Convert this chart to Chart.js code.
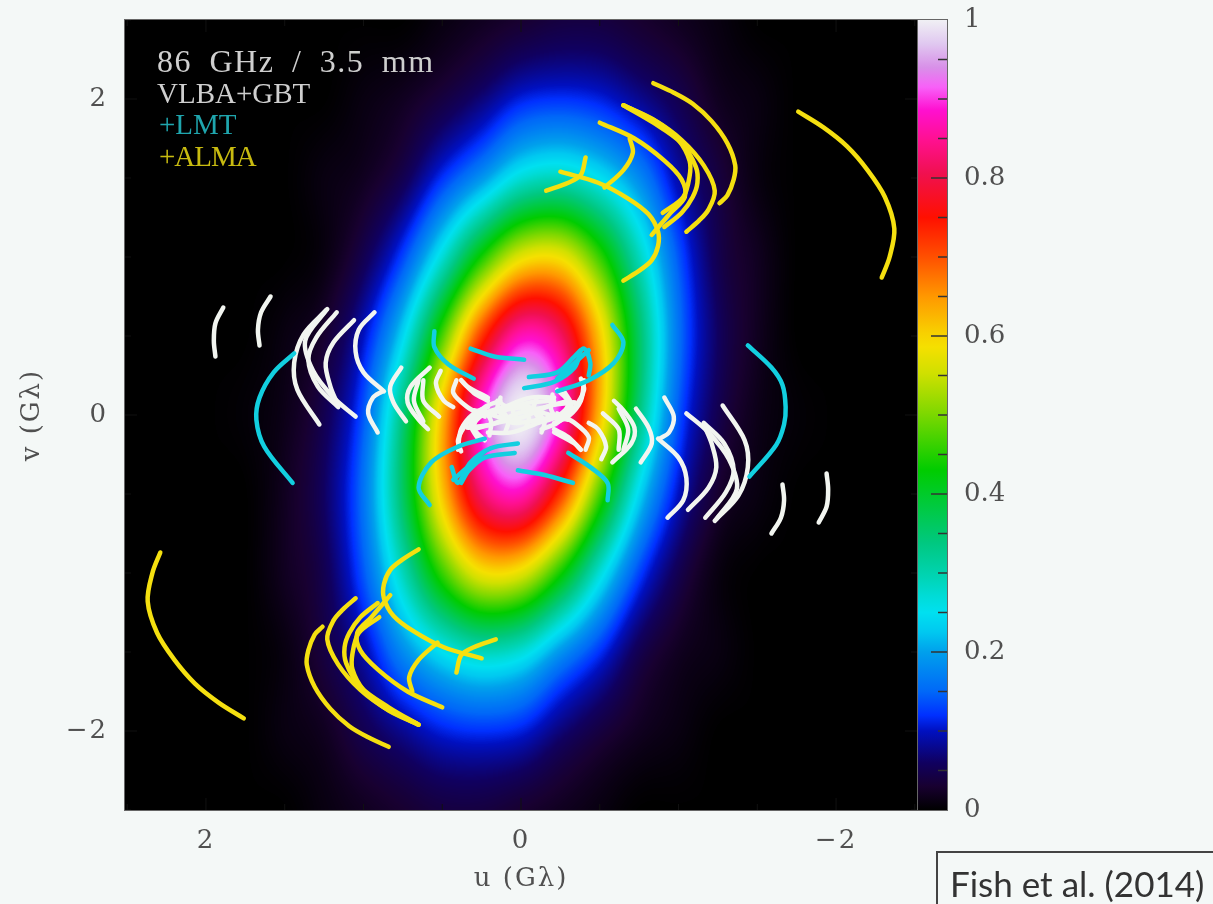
<!DOCTYPE html>
<html>
<head>
<meta charset="utf-8">
<title>86 GHz uv coverage</title>
<script src="https://cdn.jsdelivr.net/npm/chart.js@4/dist/chart.umd.min.js"></script>
<style>
  html, body { margin:0; padding:0; background:#f4f8f7; }
  #stage { position:relative; width:1213px; height:904px; overflow:hidden; }
  #plot, #bar { position:absolute; top:0; filter:blur(0.6px); }
  #plot { left:0; }
  #bar { left:900px; }
  .tag { position:absolute; left:157px; font:29px "Liberation Serif", serif; white-space:nowrap; line-height:32px; filter:blur(0.5px); }
  #fish { position:absolute; left:936px; top:851px; width:290px; height:70px; border:2px solid #444; box-sizing:border-box;
          font:35px Lato, sans-serif; color:#333; padding:9px 0 0 12px; filter:blur(0.4px); }
</style>
</head>
<body>
<div id="stage">
  <canvas id="plot" width="1213" height="904"></canvas>
  <canvas id="bar" width="313" height="840"></canvas>
  <div class="tag" style="top:45px;color:#cfcfcf;font-size:32px;letter-spacing:1.5px;word-spacing:8px">86 GHz / 3.5 mm</div>
  <div class="tag" style="top:77px;color:#cfcfcf">VLBA+GBT</div>
  <div class="tag" style="top:108px;color:#1fa5ad;left:159px">+LMT</div>
  <div class="tag" style="top:140px;color:#c8bb10;left:159px;letter-spacing:-1px">+ALMA</div>
  <div id="fish">Fish et al. (2014)</div>
</div>
<script>
// uv axes (G-lambda)
const uvTicks = [2, 0, -2];
const uvMinorTicks = [-2.5, -2, -1.5, -1, -0.5, 0, 0.5, 1, 1.5, 2, 2.5];
const barTicks = [0, 0.2, 0.4, 0.6, 0.8, 1];
const barMinorTicks = [0.05, 0.1, 0.15, 0.25, 0.3, 0.35, 0.45, 0.5, 0.55, 0.65, 0.7, 0.75, 0.85, 0.9, 0.95];

// colour bar
const cmapValues = [0, 0.03, 0.06, 0.1, 0.12, 0.15, 0.2, 0.225, 0.25, 0.27, 0.295, 0.338, 0.43, 0.503, 0.553, 0.586, 0.604, 0.65, 0.7, 0.75, 0.806, 0.848, 0.886, 0.915, 0.94, 0.97, 1];
const cmapColors = ['#000000', '#180030', '#100060', '#0010c0', '#0030ff', '#0068f8', '#00a0ec', '#00c8f0', '#00e0f0', '#00dcd8', '#00d4b4', '#00c880', '#00cc00', '#80d800', '#d0e000', '#f5e000', '#f8d000', '#ff9800', '#ff5000', '#ff1000', '#f01050', '#ff1090', '#ff10d0', '#f860f8', '#d890e8', '#e0c8f0', '#f0f0f4'];

// intensity on a coarse u,v grid
const gridU = [-2.5, -2.25, -2, -1.75, -1.5, -1.25, -1, -0.75, -0.5, -0.25, 0, 0.25, 0.5, 0.75, 1, 1.25, 1.5, 1.75, 2, 2.25, 2.5];
const gridV = [2.5, 2, 1.5, 1, 0.5, 0, -0.5, -1, -1.5, -2, -2.5];
const intensity = [
  [0, 0, 0, 0, 0, .01, .02, .03, .04, .04, .03, .02, .01, 0, 0, 0, 0, 0, 0, 0, 0],
  [0, 0, 0, 0, .01, .02, .05, .08, .11, .12, .11, .07, .04, .02, .01, 0, 0, 0, 0, 0, 0],
  [0, 0, 0, 0, .01, .04, .09, .18, .25, .29, .27, .19, .12, .05, .02, .01, 0, 0, 0, 0, 0],
  [0, 0, 0, 0, .02, .05, .14, .29, .46, .58, .57, .44, .27, .13, .05, .01, 0, 0, 0, 0, 0],
  [0, 0, 0, 0, .02, .06, .16, .36, .61, .82, .87, .72, .47, .24, .10, .03, .01, 0, 0, 0, 0],
  [0, 0, 0, .004, .015, .05, .14, .34, .62, .89, 1, .89, .62, .34, .14, .05, .015, .004, 0, 0, 0],
  [0, 0, 0, 0, .01, .03, .10, .24, .47, .72, .87, .82, .61, .36, .16, .06, .02, 0, 0, 0, 0],
  [0, 0, 0, 0, 0, .01, .05, .13, .27, .44, .57, .58, .46, .29, .14, .05, .02, 0, 0, 0, 0],
  [0, 0, 0, 0, 0, .01, .02, .05, .12, .19, .27, .29, .25, .18, .09, .04, .01, 0, 0, 0, 0],
  [0, 0, 0, 0, 0, 0, .01, .02, .04, .07, .11, .12, .11, .08, .05, .02, .01, 0, 0, 0, 0],
  [0, 0, 0, 0, 0, 0, 0, 0, .01, .02, .03, .04, .04, .03, .02, .01, 0, 0, 0, 0, 0]
];

// VLBA+GBT tracks
const whiteArcs = [
  [[1.89,.68],[1.94,.58],[1.95,.47],[1.94,.37]],
  [[1.59,.75],[1.65,.65],[1.67,.54],[1.66,.44]],
  [[1.23,.67],[1.38,.51],[1.44,.33],[1.42,.16],[1.28,-.06]],
  [[1.17,.65],[1.30,.49],[1.35,.35],[1.29,.18],[1.16,.05]],
  [[1.24,.66],[1.37,.47],[1.32,.28],[1.19,.11],[1.05,-.01]],
  [[1.06,.60],[1.19,.46],[1.24,.33],[1.21,.18],[1.16,.06]],
  [[.93,.65],[1.03,.54],[1.05,.40],[1.00,.27],[.87,.15]],
  [[.88,.15],[.94,.11],[.97,.01],[.91,-.11]],
  [[.76,.30],[.83,.18],[.81,.08],[.73,-.04]],
  [[.58,.30],[.70,.18],[.72,.08],[.65,-.03],[.59,-.09]],
  [[.65,.22],[.68,.09],[.62,-.04]],
  [[.51,.28],[.54,.20],[.49,.09],[.43,.05]],
  [[.62,.22],[.62,.09],[.52,-.01]],
  [[.41,.22],[.43,.14],[.34,.05],[.23,-.01]],
  [[.38,.22],[.30,.14],[.21,.09]],
  [[.38,-.23],[.40,-.16],[.34,-.05],[.23,.05],[.13,.09]],
  [[.30,.03],[.15,-.01],[.04,-.05],[-.11,-.03],[-.25,.00]],
  [[.34,-.08],[.19,-.06],[.02,.01],[-.15,.05],[-.30,.09]],
  [[.21,-.11],[.06,-.11],[-.11,-.05],[-.23,-.01],[-.33,.08]],
  [[.15,.09],[.08,.05],[-.06,.08],[-.21,.09]],
  [[-.40,.22],[-.38,.09],[-.30,-.01],[-.21,-.05]],
  [[.25,.03],[.30,-.08],[.23,-.16]],
  [[-.21,-.11],[-.34,-.18],[-.38,-.22]],
  [[.13,.11],[.15,.04],[.11,-.01]],
  [[.03,.08],[.05,.02],[.01,-.04]],
  [[-.10,.11],[-.08,.04],[-.11,-.02]],
  [[-.20,.13],[-.19,.04],[-.23,-.03]],
  [[.27,.02],[.32,-.06],[.28,-.14]],
  // conjugate side, read from the lower right
  [[-1.89,-.68],[-1.94,-.58],[-1.95,-.47],[-1.94,-.37]],
  [[-1.59,-.75],[-1.65,-.65],[-1.67,-.54],[-1.66,-.44]],
  [[-1.23,-.67],[-1.38,-.51],[-1.44,-.33],[-1.42,-.16],[-1.28,.06]],
  [[-1.17,-.65],[-1.30,-.49],[-1.35,-.35],[-1.29,-.18],[-1.16,-.05]],
  [[-1.24,-.66],[-1.37,-.47],[-1.32,-.28],[-1.19,-.11],[-1.05,.01]],
  [[-1.06,-.60],[-1.19,-.46],[-1.24,-.33],[-1.21,-.18],[-1.16,-.06]],
  [[-.93,-.65],[-1.03,-.54],[-1.05,-.40],[-1.00,-.27],[-.87,-.15]],
  [[-.88,-.15],[-.94,-.11],[-.97,-.01],[-.91,.11]],
  [[-.76,-.30],[-.83,-.18],[-.81,-.08],[-.73,.04]],
  [[-.58,-.30],[-.70,-.18],[-.72,-.08],[-.65,.03],[-.59,.09]],
  [[-.65,-.22],[-.68,-.09],[-.62,.04]],
  [[-.51,-.28],[-.54,-.20],[-.49,-.09],[-.43,-.05]],
  [[-.62,-.22],[-.62,-.09],[-.52,.01]],
  [[-.41,-.22],[-.43,-.14],[-.34,-.05],[-.23,.01]],
  [[-.38,-.22],[-.30,-.14],[-.21,-.09]],
  [[-.38,.23],[-.40,.16],[-.34,.05],[-.23,-.05],[-.13,-.09]],
  [[-.30,-.03],[-.15,.01],[-.04,.05],[.11,.03],[.25,.00]],
  [[-.34,.08],[-.19,.06],[-.02,-.01],[.15,-.05],[.30,-.09]],
  [[-.21,.11],[-.06,.11],[.11,.05],[.23,.01],[.33,-.08]],
  [[.40,-.22],[.38,-.09],[.30,.01],[.21,.05]],
  [[-.25,-.03],[-.30,.08],[-.23,.16]],
  [[.21,.11],[.34,.18],[.38,.22]],
  [[-.13,-.11],[-.15,-.04],[-.11,.01]],
  [[-.03,-.08],[-.05,-.02],[-.01,.04]],
  [[.10,-.11],[.08,-.04],[.11,.02]],
  [[.20,-.13],[.19,-.04],[.23,.03]],
  [[-.27,-.02],[-.32,.06],[-.28,.14]]
];

// +LMT tracks
const cyanArcs = [
  [[1.44,.39],[1.57,.27],[1.66,.11],[1.68,-.03],[1.63,-.20],[1.45,-.43]],
  [[-1.44,.44],[-1.59,.30],[-1.66,.19],[-1.68,.05],[-1.67,-.06],[-1.62,-.19],[-1.45,-.39]],
  [[.55,.53],[.55,.43],[.46,.32],[.30,.23]],
  [[.32,.42],[.17,.37],[-.02,.35]],
  [[-.58,.57],[-.65,.46],[-.59,.33],[-.43,.22],[-.23,.15]],
  [[-.05,.24],[-.23,.27],[-.34,.37],[-.40,.42],[-.44,.33],[-.43,.25]],
  [[-.02,.17],[-.21,.21],[-.34,.30],[-.38,.41]],
  [[-.23,.23],[-.34,.33],[-.43,.41]],
  [[-.55,-.54],[-.55,-.43],[-.44,-.33],[-.30,-.24]],
  [[.02,-.35],[-.15,-.38],[-.33,-.43]],
  [[.58,-.57],[.65,-.46],[.57,-.30],[.40,-.20],[.23,-.15]],
  [[.02,-.18],[.19,-.21],[.32,-.30],[.40,-.43],[.44,-.33]],
  [[.04,-.24],[.23,-.27],[.33,-.35],[.38,-.43]],
  [[.23,-.23],[.34,-.33],[.43,-.41]]
];

// +ALMA tracks
const yellowArcs = [
  [[-1.76,1.92],[-1.92,1.82],[-2.07,1.70],[-2.20,1.55],[-2.31,1.38],[-2.37,1.18],[-2.34,1.00],[-2.29,.87]],
  [[-.84,2.10],[-.97,2.04],[-1.09,1.97],[-1.21,1.86],[-1.31,1.72],[-1.36,1.58],[-1.35,1.49],[-1.31,1.39],[-1.26,1.34]],
  [[-.65,1.96],[-.84,1.87],[-1.02,1.74],[-1.16,1.58],[-1.23,1.42],[-1.19,1.30],[-1.13,1.23],[-1.05,1.16]],
  [[-.65,1.96],[-.84,1.85],[-1.02,1.72],[-1.11,1.57],[-1.12,1.47],[-1.09,1.38],[-1.02,1.28],[-.91,1.19]],
  [[-.65,1.96],[-.87,1.85],[-1.00,1.74],[-1.07,1.61],[-1.07,1.51],[-1.03,1.38],[-.90,1.28]],
  [[-.50,1.85],[-.72,1.75],[-.91,1.61],[-1.02,1.49],[-1.04,1.38],[-.95,1.28],[-.83,1.14]],
  [[-.25,1.54],[-.49,1.47],[-.68,1.37],[-.81,1.27],[-.87,1.16],[-.87,1.07],[-.83,.98],[-.76,.92],[-.65,.85]],
  [[-.69,1.75],[-.71,1.66],[-.65,1.55],[-.53,1.44]],
  [[-.41,1.63],[-.38,1.52],[-.30,1.47],[-.16,1.42]],
  [[1.76,-1.92],[1.92,-1.82],[2.07,-1.70],[2.20,-1.55],[2.31,-1.38],[2.37,-1.18],[2.34,-1.00],[2.29,-.87]],
  [[.84,-2.10],[.97,-2.04],[1.09,-1.97],[1.21,-1.86],[1.31,-1.72],[1.36,-1.58],[1.35,-1.49],[1.31,-1.39],[1.26,-1.34]],
  [[.65,-1.96],[.84,-1.87],[1.02,-1.74],[1.16,-1.58],[1.23,-1.42],[1.19,-1.30],[1.13,-1.23],[1.05,-1.16]],
  [[.65,-1.96],[.84,-1.85],[1.02,-1.72],[1.11,-1.57],[1.12,-1.47],[1.09,-1.38],[1.02,-1.28],[.91,-1.19]],
  [[.65,-1.96],[.87,-1.85],[1.00,-1.74],[1.07,-1.61],[1.07,-1.51],[1.03,-1.38],[.90,-1.28]],
  [[.50,-1.85],[.72,-1.75],[.91,-1.61],[1.02,-1.49],[1.04,-1.38],[.95,-1.28],[.83,-1.14]],
  [[.25,-1.54],[.49,-1.47],[.68,-1.37],[.81,-1.27],[.87,-1.16],[.87,-1.07],[.83,-.98],[.76,-.92],[.65,-.85]],
  [[.69,-1.75],[.71,-1.66],[.65,-1.55],[.53,-1.44]],
  [[.41,-1.63],[.38,-1.52],[.30,-1.47],[.16,-1.42]]
];

const FG = '#505050';
const SERIF = '"DejaVu Serif", serif';

function hexRgb(h){ return [1,3,5].map(i => parseInt(h.slice(i,i+2),16)); }
function buildLut(n){
  const lut = new Uint8ClampedArray(n*3); let k = 0;
  for(let i=0;i<n;i++){
    const t = i/(n-1);
    while(k < cmapValues.length-2 && t > cmapValues[k+1]) k++;
    const f = (t-cmapValues[k])/(cmapValues[k+1]-cmapValues[k]);
    const a = hexRgb(cmapColors[k]), b = hexRgb(cmapColors[k+1]);
    for(let c=0;c<3;c++) lut[i*3+c] = a[c]+(b[c]-a[c])*f;
  }
  return lut;
}
function cubic(p0,p1,p2,p3,t){
  return p1 + 0.5*t*(p2-p0 + t*(2*p0-5*p1+4*p2-p3 + t*(3*(p1-p2)+p3-p0)));
}
function pick(a,i){ return a[Math.max(0,Math.min(a.length-1,i))]; }
function noAxisPad(s){ s.paddingTop = 0; s.paddingBottom = 0; s.paddingLeft = 0; s.paddingRight = 0; }

// paints the intensity grid behind the tracks, positions come from the scales
const heatPlugin = {
  id:'heat',
  beforeDraw(chart){ chart.ctx.letterSpacing = '2px'; },
  beforeDatasetsDraw(chart){
    const {ctx, chartArea:a, scales:{x,y}} = chart;
    const w = Math.round(a.right-a.left), h = Math.round(a.bottom-a.top);
    const off = document.createElement('canvas'); off.width=w; off.height=h;
    const oc = off.getContext('2d'), img = oc.createImageData(w,h);
    const lut = buildLut(1024);
    const du = gridU[1]-gridU[0], dv = gridV[0]-gridV[1];
    // rows resampled along u first
    const rows = intensity.map(r => {
      const out = new Float32Array(w);
      for(let i=0;i<w;i++){
        const g = (x.getValueForPixel(a.left+i+0.5)-gridU[0])/du, k = Math.floor(g);
        out[i] = cubic(pick(r,k-1),pick(r,k),pick(r,k+1),pick(r,k+2),g-k);
      }
      return out;
    });
    for(let j=0;j<h;j++){
      const g = (gridV[0]-y.getValueForPixel(a.top+j+0.5))/dv, k = Math.floor(g);
      const r0=pick(rows,k-1), r1=pick(rows,k), r2=pick(rows,k+1), r3=pick(rows,k+2);
      for(let i=0;i<w;i++){
        const val = Math.max(0,Math.min(1,cubic(r0[i],r1[i],r2[i],r3[i],g-k)));
        const l = Math.round(val*1023)*3, p = (j*w+i)*4;
        img.data[p]=lut[l]; img.data[p+1]=lut[l+1]; img.data[p+2]=lut[l+2]; img.data[p+3]=255;
      }
    }
    oc.putImageData(img,0,0);
    ctx.drawImage(off,a.left,a.top);
  }
};

// pgplot style inward ticks and frame
const framePlugin = {
  id:'frame',
  afterDraw(chart){
    const {ctx, chartArea:a, scales:{x,y}} = chart;
    ctx.save();
    ctx.strokeStyle='#111'; ctx.lineWidth=1;
    uvMinorTicks.forEach(t => {
      const len = uvTicks.includes(t) ? 12 : 6;
      const px = x.getPixelForValue(t), py = y.getPixelForValue(t);
      ctx.beginPath();
      ctx.moveTo(px,a.bottom); ctx.lineTo(px,a.bottom-len);
      ctx.moveTo(px,a.top); ctx.lineTo(px,a.top+len);
      ctx.moveTo(a.left,py); ctx.lineTo(a.left+len,py);
      ctx.moveTo(a.right,py); ctx.lineTo(a.right-len,py);
      ctx.stroke();
    });
    ctx.strokeStyle='#666';
    ctx.strokeRect(a.left-0.5,a.top-0.5,a.right-a.left+1,a.bottom-a.top+1);
    ctx.restore();
  }
};

function arcDatasets(arcs,color,width){
  return arcs.map(arc => ({
    data: arc.map(p => ({x:p[0],y:p[1]})),
    showLine:true, pointRadius:0, borderColor:color, borderWidth:width,
    tension:0.33, borderCapStyle:'round', borderJoinStyle:'round', fill:false
  }));
}

new Chart(document.getElementById('plot'),{
  type:'scatter',
  data:{ datasets:[
    ...arcDatasets(yellowArcs,'#f5e010',4.5),
    ...arcDatasets(cyanArcs,'#12cfe0',4.5),
    ...arcDatasets(whiteArcs,'#f2f5f0',4.5)
  ]},
  options:{
    responsive:false, animation:false, devicePixelRatio:1,
    layout:{ padding:{left:0,right:296,top:20,bottom:0} },
    plugins:{ legend:{display:false}, tooltip:{enabled:false} },
    scales:{
      x:{
        type:'linear', reverse:true, min:-2.514, max:2.514,
        afterBuildTicks:s => { s.ticks = uvTicks.map(value => ({value})); },
        afterFit:s => { s.height = 94; noAxisPad(s); },
        grid:{display:false}, border:{display:false},
        ticks:{ color:FG, font:{family:SERIF,size:26}, padding:8, maxRotation:0,
                callback:v => String(v).replace('-','\u2212') },
        title:{ display:true, text:'u (G\u03bb)', color:FG, font:{family:SERIF,size:26}, padding:{top:0,bottom:9} }
      },
      y:{
        type:'linear', min:-2.5, max:2.5,
        afterBuildTicks:s => { s.ticks = uvTicks.map(value => ({value})); },
        afterFit:s => { s.width = 125; noAxisPad(s); },
        grid:{display:false}, border:{display:false},
        ticks:{ color:FG, font:{family:SERIF,size:26}, padding:9,
                callback:v => String(v).replace('-','\u2212') },
        title:{ display:true, text:'v (G\u03bb)', color:FG, font:{family:SERIF,size:26}, padding:{top:17,bottom:0} }
      }
    }
  },
  plugins:[heatPlugin,framePlugin]
});

// colour wedge: one floating bar from 0 to 1, filled from the colour table
const wedgeTicks = {
  id:'wedgeTicks',
  afterDraw(chart){
    const {ctx, chartArea:a, scales:{y}} = chart;
    ctx.save();
    ctx.strokeStyle='#333'; ctx.lineWidth=1.5;
    barMinorTicks.concat(barTicks.slice(1,5)).forEach(t => {
      const len = barTicks.includes(t) ? 16 : 9, py = y.getPixelForValue(t);
      ctx.beginPath(); ctx.moveTo(a.right,py); ctx.lineTo(a.right-len,py); ctx.stroke();
    });
    ctx.strokeStyle='#666'; ctx.lineWidth=1;
    ctx.strokeRect(a.left+0.5,a.top-0.5,a.right-a.left,a.bottom-a.top+1);
    ctx.restore();
  }
};

new Chart(document.getElementById('bar'),{
  type:'bar',
  data:{ labels:['I'], datasets:[{
    data:[[0,1]], barPercentage:1, categoryPercentage:1, borderWidth:0,
    backgroundColor(c){
      const {ctx, chartArea:a} = c.chart;
      if(!a) return '#000';
      const g = ctx.createLinearGradient(0,a.bottom,0,a.top);
      cmapValues.forEach((v,i) => g.addColorStop(v,cmapColors[i]));
      return g;
    }
  }]},
  options:{
    responsive:false, animation:false, devicePixelRatio:1,
    layout:{ padding:{left:17,right:0,top:20,bottom:30} },
    plugins:{ legend:{display:false}, tooltip:{enabled:false} },
    scales:{
      x:{ display:false },
      y:{
        position:'right', min:0, max:1,
        afterBuildTicks:s => { s.ticks = barTicks.map(value => ({value})); },
        afterFit:s => { s.width = 266; noAxisPad(s); },
        grid:{display:false}, border:{display:false},
        ticks:{ color:FG, font:{family:SERIF,size:26}, padding:9, callback:v => String(v) }
      }
    }
  },
  plugins:[wedgeTicks]
});
</script>
</body>
</html>
